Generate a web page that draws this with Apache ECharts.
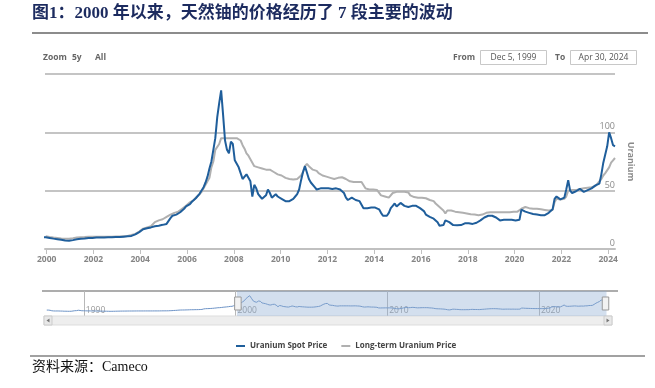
<!DOCTYPE html>
<html><head><meta charset="utf-8">
<script src="https://cdn.jsdelivr.net/npm/echarts@6/dist/echarts.min.js"></script>
<style>html,body{margin:0;padding:0;background:#fff}#c{width:655px;height:388px}</style>
</head><body><div id="c"></div>
<script>
const titleText = '图1：2000 年以来，天然铀的价格经历了 7 段主要的波动';
const sourceText = '资料来源：Cameco';
const seriesNames = ['Uranium Spot Price', 'Long-term Uranium Price'];
const yAxisName = 'Uranium';
const xTickYears = [2000, 2002, 2004, 2006, 2008, 2010, 2012, 2014, 2016, 2018, 2020, 2022, 2024];
const navTickYears = [1990, 2000, 2010, 2020];
const rangeFrom = 'Dec 5, 1999';
const rangeTo = 'Apr 30, 2024';
const zoomButtons = ['Zoom', '5y', 'All'];

// monthly values, Dec 1999 .. Apr 2024 (USD/lb)
const spot = [
  10.0,
  9.6, 9.5, 9.3, 8.9, 8.6, 8.4, 8.2, 7.9, 7.6, 7.2, 6.9, 7.0,
  7.2, 7.6, 8.0, 8.3, 8.6, 8.8, 8.9, 9.0, 9.3, 9.4, 9.4, 9.5,
  9.7, 9.8, 9.9, 9.9, 9.9, 9.9, 10.0, 10.0, 10.0, 10.0, 10.1, 10.2,
  10.2, 10.2, 10.3, 10.6, 10.9, 10.9, 11.0, 11.2, 12.0, 12.5, 13.8, 14.5,
  15.5, 16.9, 17.5, 17.8, 18.0, 18.5, 18.8, 19.5, 20.0, 20.0, 20.5, 20.7,
  21.0, 21.5, 22.5, 26.5, 28.5, 29.0, 29.5, 30.5, 31.5, 33.0, 34.5, 36.5,
  37.0, 38.5, 40.5, 42.0, 43.5, 45.0, 47.5, 48.0, 53.0, 57.0, 62.0, 69.0,
  75, 85, 95, 113, 125, 136, 115, 93, 85, 82, 92, 90,
  76, 73, 70, 65, 60, 59, 64, 65, 58, 45, 55, 52,
  47, 45, 43, 42, 46, 51, 48, 44, 43, 47, 45, 44,
  43, 42, 41, 41, 41, 41.5, 43, 45, 47, 51, 59, 66,
  71, 72, 60, 57, 56, 53, 51, 50, 52, 52, 52, 52,
  52, 52, 51.5, 51.5, 52, 52, 51, 50.5, 48, 44, 42, 43,
  44, 43, 42, 42, 41, 40, 35, 34.5, 35, 35, 35.5, 35,
  35.5, 35, 34, 31, 28.5, 27.5, 28.5, 31, 35, 37, 39, 36.5,
  37.5, 39.5, 39, 37, 35.5, 36, 36.5, 37, 37, 37, 36.5, 35,
  34.5, 32.5, 29.5, 28, 27.5, 27, 26, 25, 23, 20, 18.3, 20.5,
  24.5, 24, 23, 22.5, 20.5, 20.3, 20.3, 20.3, 20.5, 20.5, 22, 23,
  22, 22, 21.5, 21, 22.5, 23.5, 24.5, 26, 27, 28, 28.5, 28.8,
  28.5, 28, 27, 26, 24.5, 24.5, 25, 25, 25, 24.5, 25, 24.5,
  24.5, 24.5, 25, 33.8, 33, 32, 31.5, 31, 30.5, 30, 29.5, 29.5,
  29.5, 29, 29, 29, 29.5, 31, 32.5, 34, 43, 45, 46, 42.5,
  43, 44, 51, 59, 50, 48, 48.5, 49.5, 50.5, 51.5, 50.5, 49,
  50, 50.5, 50, 52, 52, 54.5, 55, 56, 64, 74, 81, 88,
  100, 95, 89, 88
];
const longTerm = [
  11.0,
  10.5, 10.3, 10.0, 9.8, 9.6, 9.4, 9.2, 9.0, 8.9, 8.8, 8.8, 8.8,
  9.0, 9.2, 9.5, 9.8, 10.0, 10.0, 10.2, 10.2, 10.4, 10.5, 10.5, 10.5,
  10.5, 10.5, 10.5, 10.4, 10.4, 10.5, 10.5, 10.6, 10.6, 10.6, 10.8, 10.8,
  10.8, 10.8, 10.9, 11.0, 11.0, 11.2, 11.5, 12.0, 12.5, 13.0, 14.0, 15.0,
  16, 17.5, 18.5, 18.5, 19, 19.5, 20, 23, 24, 24.5, 25, 25.5,
  26.5, 27.5, 28.5, 29.5, 30.5, 31, 31.5, 32, 33.5, 34.5, 35.5, 37,
  38, 40, 41, 42, 44, 45, 47, 49, 52, 55, 58, 61,
  70, 75, 85, 85, 90, 95, 95, 95, 95, 95, 95, 95,
  95, 95, 95, 93, 89, 86, 82, 80, 79, 74, 71, 70,
  70, 70, 69, 69, 68, 68, 68, 67, 66, 65, 64, 63.5,
  63, 62, 61, 60, 60, 59.5, 59.5, 59.5, 60, 61, 63, 66,
  71, 73, 71, 70, 68, 68, 67, 65, 64, 63, 63, 62,
  61, 61, 60, 60, 60.5, 61, 61.5, 61.5, 61, 60, 60, 58,
  57.5, 57.5, 57.5, 57.5, 57.5, 57.5, 56, 52, 51, 51, 51, 51,
  51, 50.5, 50, 46, 45.5, 45, 44.5, 44, 45, 48, 49, 49,
  49, 49, 49, 49, 49, 48.5, 46, 45, 44.5, 44, 44, 44,
  44, 44, 43.5, 43, 42, 41, 41, 39, 38, 36, 35, 33,
  30.5, 33, 33, 33, 32.5, 32, 31.7, 31.5, 31, 31, 30.5, 30.5,
  30, 29.8, 29.5, 29.5, 29.3, 29, 29, 29.5, 30, 31, 31.5, 31.5,
  31.5, 31.5, 31.5, 31.5, 31.5, 31.5, 31.5, 31.5, 31.5, 31.5, 31.5, 32,
  32, 32, 32.5, 34.5, 36, 36, 35.5, 35, 35, 34.5, 34.5, 34.5,
  34, 34, 33.5, 33.5, 33, 33, 33, 33.5, 40, 43, 43, 42.5,
  42, 43, 45, 50, 50.5, 50.5, 50.5, 50.5, 51, 51.5, 52, 52,
  52, 52.5, 53, 53, 53, 54, 56, 57.5, 60, 63, 65, 66,
  70, 74, 76, 78
];
// earlier spot history shown only in the navigator (year, month)
const histMonths = [[1987,5],[1987,12],[1988,6],[1988,12],[1989,6],[1989,12],[1990,6],[1990,12],[1991,6],[1991,12],[1992,6],[1992,12],[1993,6],[1993,12],[1994,6],[1994,12],[1995,6],[1995,12],[1996,6],[1996,12],[1997,6],[1997,12],[1998,6],[1998,12],[1999,6]];
const histSpot = [17, 17, 15.5, 11.5, 10, 9.5, 9.8, 9.5, 9, 8.8, 7.8, 7.8, 7.2, 7.1, 7.4, 9.5, 11.8, 12.5, 15.7, 14, 11.5, 11.5, 11, 10.5, 10.5];

// x positions in decimal years (mid-month)
const ym = (y, m) => y + (m - 0.5) / 12;
function monthX(i) {
  const m0 = 11 + i;
  return ym(1999 + Math.floor(m0 / 12), m0 % 12 + 1);
}
const spotData = histMonths.map((d, i) => [ym(d[0], d[1]), histSpot[i]]).concat(spot.map((v, i) => [monthX(i), v]));
const ltData = longTerm.map((v, i) => [monthX(i), v]);
const navMin = ym(histMonths[0][0], histMonths[0][1]);
const navMax = monthX(spot.length - 1);
const viewStart = 1999 + 338 / 365;   // Dec 5, 1999
const viewEnd = navMax;

const labelFont = '"Open Sans", "DejaVu Sans", sans-serif';
const btnFont = 'bold 8.5px "Open Sans", sans-serif';
const chart = echarts.init(document.getElementById('c'));
chart.setOption({
  animation: false,
  backgroundColor: '#fff',
  grid: [
    { left: 45, right: 40, top: 74, height: 175 },
    { left: 44, right: 51, top: 291, height: 25 }
  ],
  xAxis: [
    { type: 'value', gridIndex: 0, min: 'dataMin', max: 'dataMax',
      axisLine: { lineStyle: { color: '#c0c0c0', width: 2 } },
      axisTick: { show: true, length: 5, customValues: xTickYears, lineStyle: { color: '#c0c0c0' } },
      axisLabel: { customValues: xTickYears, formatter: v => String(Math.round(v)),
        color: '#858585', fontSize: 8.5, fontWeight: 'bold', fontFamily: labelFont, margin: 6 },
      splitLine: { show: false } },
    { type: 'value', gridIndex: 1, min: navMin, max: navMax, position: 'bottom',
      axisLine: { show: false }, axisTick: { show: false, customValues: navTickYears },
      axisLabel: { inside: true, customValues: navTickYears, formatter: v => String(Math.round(v)),
        align: 'left', padding: [0, 0, 0, 2], margin: 1, verticalAlign: 'bottom', color: '#999', fontSize: 8.5, fontFamily: labelFont },
      splitLine: { show: true, lineStyle: { color: '#b8b8b8', width: 1 } } }
  ],
  yAxis: [
    { type: 'value', gridIndex: 0, position: 'right', min: 0, max: 150, interval: 50,
      axisLine: { show: false }, axisTick: { show: false },
      splitLine: { lineStyle: { color: '#b0b0b0', width: 1.5 } },
      axisLabel: { inside: true, margin: 0, verticalAlign: 'bottom', showMaxLabel: false,
        color: '#8a8a8a', fontSize: 9, fontFamily: labelFont, padding: [0, 0, 1, 0] },
      name: yAxisName, nameLocation: 'middle', nameRotate: -90, nameGap: -4,
      nameTextStyle: { color: '#8a8a8a', fontSize: 9, fontWeight: 'bold', fontFamily: labelFont } },
    { type: 'value', gridIndex: 1, min: 0, max: 1, show: false }
  ],
  dataZoom: [{
    type: 'slider', xAxisIndex: 0, filterMode: 'none',
    startValue: viewStart, endValue: viewEnd,
    left: 44, right: 51, top: 291, height: 25,
    showDetail: false, brushSelect: false,
    backgroundColor: 'rgba(0,0,0,0)', borderColor: 'transparent',
    fillerColor: 'rgba(140,172,210,0.38)',
    dataBackground: { lineStyle: { color: '#6d93c6', width: 1, opacity: 1 }, areaStyle: { opacity: 0 } },
    selectedDataBackground: { lineStyle: { color: '#6d93c6', width: 1, opacity: 1 }, areaStyle: { opacity: 0 } },
    handleIcon: 'path://M0,0H8V16H0Z', handleSize: 13,
    handleStyle: { color: '#f2f2f2', borderColor: '#999', borderWidth: 1 },
    moveHandleSize: 9,
    moveHandleIcon: 'path://M0,0H1V6H0Z M2,0H3V6H2Z M4,0H5V6H4Z',
    moveHandleStyle: { color: '#bfc5cd', opacity: 1 }
  }],
  legend: {
    left: 231, top: 337, icon: 'rect', itemWidth: 9, itemHeight: 2, itemGap: 14,
    data: seriesNames,
    textStyle: { fontSize: 8, fontWeight: 'bold', color: '#444', fontFamily: labelFont }
  },
  series: [
    { name: seriesNames[0], type: 'line', xAxisIndex: 0, yAxisIndex: 0, data: spotData,
      showSymbol: false, z: 3, lineStyle: { color: '#1f5e9b', width: 2 }, itemStyle: { color: '#1f5e9b' } },
    { name: seriesNames[1], type: 'line', xAxisIndex: 0, yAxisIndex: 0, data: ltData,
      showSymbol: false, z: 2, lineStyle: { color: '#b0b0b0', width: 2 }, itemStyle: { color: '#b0b0b0' } }
  ],
  graphic: [
    { type: 'text', left: 32, top: 5, style: { text: titleText, fill: '#1c2b5f',
      font: 'bold 17px "Liberation Serif", "Noto Sans CJK SC", serif' } },
    { type: 'rect', shape: { x: 32, y: 32, width: 616, height: 2 }, style: { fill: '#8c8c8c' } },
    { type: 'text', x: 43, y: 58, style: { text: zoomButtons[0], fill: '#666', font: btnFont, verticalAlign: 'middle' } },
    { type: 'text', x: 72, y: 58, style: { text: zoomButtons[1], fill: '#666', font: btnFont, verticalAlign: 'middle' } },
    { type: 'text', x: 95, y: 58, style: { text: zoomButtons[2], fill: '#666', font: btnFont, verticalAlign: 'middle' } },
    { type: 'text', x: 453, y: 58, style: { text: 'From', fill: '#666', font: btnFont, verticalAlign: 'middle' } },
    { type: 'rect', shape: { x: 480.5, y: 50.5, width: 66, height: 14 }, style: { fill: '#fff', stroke: '#c8c8c8', lineWidth: 1 } },
    { type: 'text', x: 513.5, y: 58, style: { text: rangeFrom, fill: '#555', font: '8.5px "Open Sans", sans-serif', align: 'center', verticalAlign: 'middle' } },
    { type: 'text', x: 555, y: 58, style: { text: 'To', fill: '#666', font: btnFont, verticalAlign: 'middle' } },
    { type: 'rect', shape: { x: 570.5, y: 50.5, width: 66, height: 14 }, style: { fill: '#fff', stroke: '#c8c8c8', lineWidth: 1 } },
    { type: 'text', x: 603.5, y: 58, style: { text: rangeTo, fill: '#555', font: '8.5px "Open Sans", sans-serif', align: 'center', verticalAlign: 'middle' } },
    { type: 'rect', shape: { x: 42, y: 290, width: 576, height: 2 }, style: { fill: '#adadad' } },
    { type: 'rect', z: 1, shape: { x: 44, y: 316, width: 568, height: 9 }, style: { fill: '#eeeeee', stroke: '#dddddd', lineWidth: 1 } },
    { type: 'rect', z: 10, shape: { x: 44, y: 316, width: 8, height: 9 }, style: { fill: '#e8e8e8', stroke: '#cccccc', lineWidth: 1 } },
    { type: 'polygon', z: 11, shape: { points: [[49.5, 318.5], [49.5, 322.5], [46.5, 320.5]] }, style: { fill: '#777' } },
    { type: 'rect', z: 10, shape: { x: 604, y: 316, width: 8, height: 9 }, style: { fill: '#e8e8e8', stroke: '#cccccc', lineWidth: 1 } },
    { type: 'polygon', z: 11, shape: { points: [[606.5, 318.5], [606.5, 322.5], [609.5, 320.5]] }, style: { fill: '#777' } },
    { type: 'rect', shape: { x: 30, y: 355.5, width: 615, height: 1 }, style: { fill: '#444' } },
    { type: 'text', x: 32, y: 367, style: { text: sourceText, fill: '#111', verticalAlign: 'middle',
      font: '14px "Liberation Serif", "Noto Sans CJK SC", serif' } }
  ]
});
</script></body></html>
